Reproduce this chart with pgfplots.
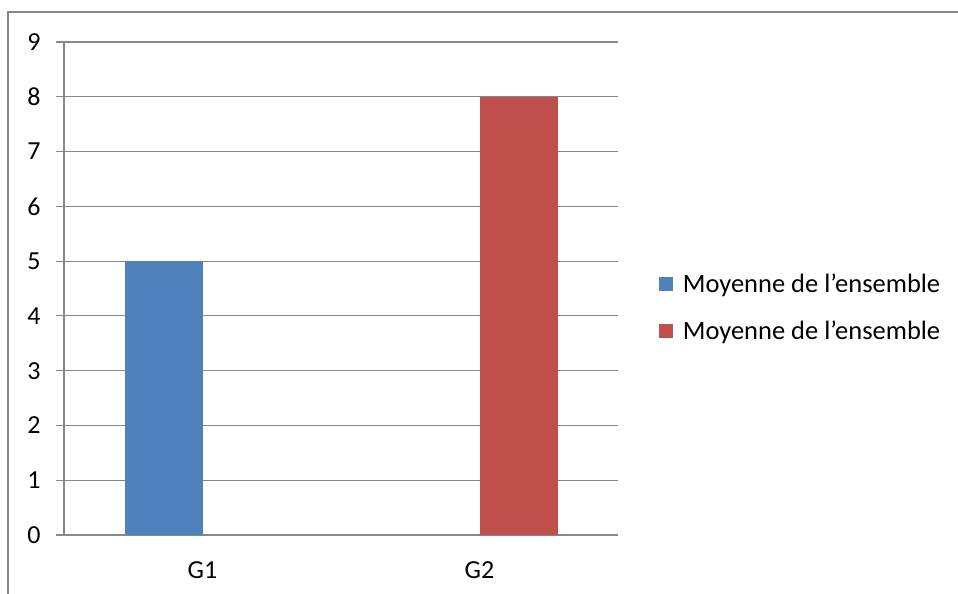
\documentclass[border=0pt]{standalone}
\usepackage{pgfplots}
\pgfplotsset{compat=1.18}
\usepackage{fontspec}
\setmainfont{Carlito}
\definecolor{xlblue}{HTML}{4F81BD}
\definecolor{xlred}{HTML}{C0504D}
\definecolor{xlgrid}{HTML}{888888}
\begin{document}
\begin{tikzpicture}
\path[use as bounding box] (0pt,0pt) rectangle (958pt,594pt);
% chart frame (top and left edges visible)
\draw[xlgrid, line width=2.5pt] (8pt,0pt) -- (8pt,582pt) -- (958pt,582pt);
\begin{axis}[
  at={(64pt,59pt)}, anchor=south west,
  scale only axis, width=554pt, height=493pt,
  ybar=0pt, bar width=78pt,
  xmin=-0.5, xmax=1.5, ymin=0, ymax=9,
  axis x line*=bottom, axis y line*=left,
  axis line style={xlgrid, line width=1.2pt, -},
  xtick={0,1}, xticklabels={G1,G2},
  xtick style={draw=none},
  extra x ticks={-0.5,0.5,1.5}, extra x tick labels={},
  extra x tick style={major tick length=8pt, tick align=outside,
    tick style={xlgrid, line width=1.2pt}},
  ytick={0,...,9},
  ymajorgrids, grid style={xlgrid, line width=1.2pt},
  major tick length=8pt, tick align=outside,
  ytick style={xlgrid, line width=1.2pt},
  tick label style={font=\fontsize{26}{28}\selectfont, text=black},
  /pgf/number format/assume math mode=true,
  yticklabel style={xshift=-12pt},
  xticklabel style={yshift=-15pt},
  legend style={draw=none, fill=none, at={(1.068,0.538)}, anchor=north west,
    font=\fontsize{26.5}{29}\selectfont, row sep=23pt,
    /tikz/every odd column/.append style={column sep=8pt}},
  legend image code/.code={\fill[#1] (0pt,-7pt) rectangle (14pt,7pt);},
  legend cell align=left,
]
\addplot[fill=xlblue, draw=none] coordinates {(0,5)};
\addplot[fill=xlred, draw=none] coordinates {(1,8)};
\legend{Moyenne de l’ensemble, Moyenne de l’ensemble}
\end{axis}
\end{tikzpicture}
\end{document}
